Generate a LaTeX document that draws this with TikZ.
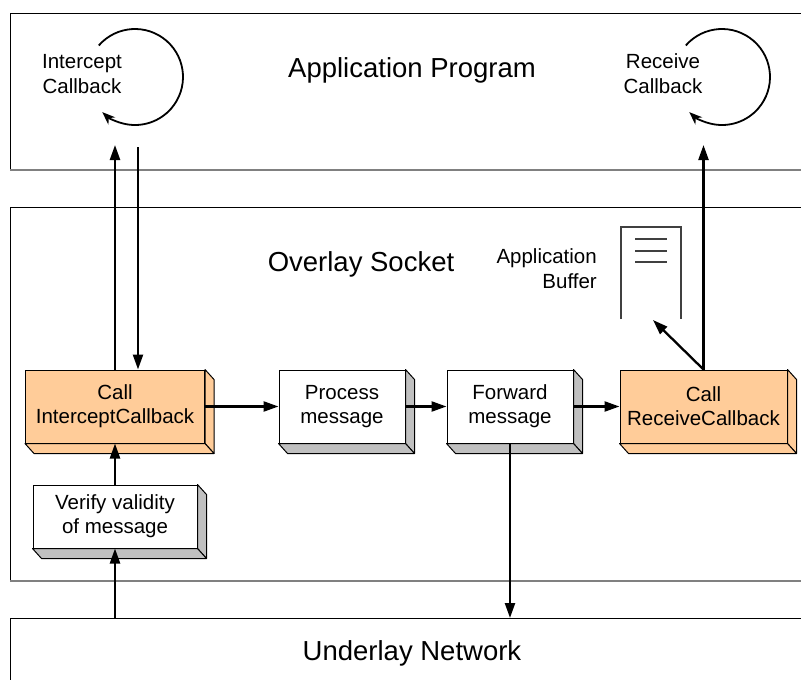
\documentclass[tikz,border=0pt]{standalone}
\usepackage{fontspec}
\setmainfont{Liberation Sans}
\usetikzlibrary{arrows.meta}
\definecolor{peach}{HTML}{FFCC99}
\definecolor{sidegray}{HTML}{C0C0C0}
\definecolor{edgegray}{HTML}{808080}
\newcommand\boxfaces[2]{%
  \filldraw[fill=#2, draw=black, line width=1pt, line join=round]
    (#1.north east) -- ++(9,10) -- ([shift={(9,10)}]#1.south east) -- (#1.south east) -- cycle;
  \filldraw[fill=#2, draw=black, line width=1pt, line join=round]
    (#1.south west) -- ++(9,10) -- ([shift={(9,10)}]#1.south east) -- (#1.south east) -- cycle;
}
\begin{document}
\begin{tikzpicture}[x=1pt,y=-1pt,
  box/.style={draw=black, line width=1pt, align=center, inner sep=0pt,
    font=\fontsize{20.5}{24}\selectfont},
  arr/.style={line width=2.3pt, -{Triangle[length=15pt,width=10pt]}},
  loopy/.style={line width=1.8pt, -{Stealth[length=13pt,width=10pt]}},
  big/.style={font=\fontsize{27.5}{30}\selectfont, anchor=base, inner sep=0pt},
  lab/.style={font=\fontsize{20.5}{25}\selectfont, align=center, inner sep=0pt},
  frame/.style={line width=1pt, draw=black},
  frameb/.style={line width=1.8pt, draw=edgegray}]
\useasboundingbox (0,0) rectangle (801,680);
\fill[white] (0,0) rectangle (801,680);

% big layers
\draw[frame] (10,170) -- (10,13) -- (830,13);
\draw[frameb] (10,170) -- (830,170);
\draw[frame] (10,581) -- (10,207) -- (830,207);
\draw[frameb] (10,581) -- (830,581);
\draw[frame] (10,700) -- (10,618) -- (830,618);

\node[big] (app) at (412,77) {Application Program};
\node[big] (ovl) at (361,271) {Overlay Socket};
\node[big] (und) at (412,660) {Underlay Network};

\coordinate (un) at (0,618);
\coordinate (tp) at (0,145);
\coordinate (dn) at (138,147);

% loops
\node[lab] (ic) at (82,74) {Intercept\\Callback};
\node[lab] (rc) at (663,74) {Receive\\Callback};
\draw[loopy] (135,77) ++(-139:48) arc[start angle=-139, end angle=133, radius=48];
\draw[loopy] (722,77) ++(-139:48) arc[start angle=-139, end angle=133, radius=48];

% boxes
\node[box, fill=peach, minimum width=179pt, minimum height=73pt] (ci) at (115,406.5) {Call\\InterceptCallback};
\node[box, fill=white, minimum width=164pt, minimum height=63pt] (ver) at (115,516.5) {Verify validity\\of message};
\node[box, fill=white, minimum width=126pt, minimum height=73pt] (pm) at (342,406.5) {Process\\message};
\node[box, fill=white, minimum width=126pt, minimum height=73pt] (fm) at (510,406.5) {Forward\\message};
\node[box, fill=peach, minimum width=167pt, minimum height=73pt] (cr) at (703.5,406.5) {Call\\ReceiveCallback};
\boxfaces{ci}{peach}
\boxfaces{cr}{peach}
\boxfaces{ver}{sidegray}
\boxfaces{pm}{sidegray}
\boxfaces{fm}{sidegray}

% application buffer
\draw[line width=1.4pt, draw=black!75] (621,319) -- (621,227) -- (681,227) -- (681,319);
\foreach \yy in {239,251,262} \draw[line width=1.4pt, draw=black!75] (635,\yy) -- (667,\yy);
\node[lab, align=right, anchor=east] (ab) at (597,269) {Application\\Buffer};
\coordinate (buf) at (653,320);

% connectors
\draw[arr] (ci.north) -- (ci.north |- tp);
\draw[arr] (dn) -- (dn |- ci.north);
\draw[arr] (cr.north) -- (cr.north |- tp);
\draw[arr] (cr.north) -- (buf);
\draw[arr] (ci.east) -- (pm.west);
\draw[arr] (pm.east) -- (fm.west);
\draw[arr] (fm.east) -- (cr.west);
\draw[arr] (ver.north) -- (ci.south);
\draw[arr] (ver.south |- un) -- (ver.south);
\draw[arr] (fm.south) -- (fm.south |- un);
\end{tikzpicture}
\end{document}
